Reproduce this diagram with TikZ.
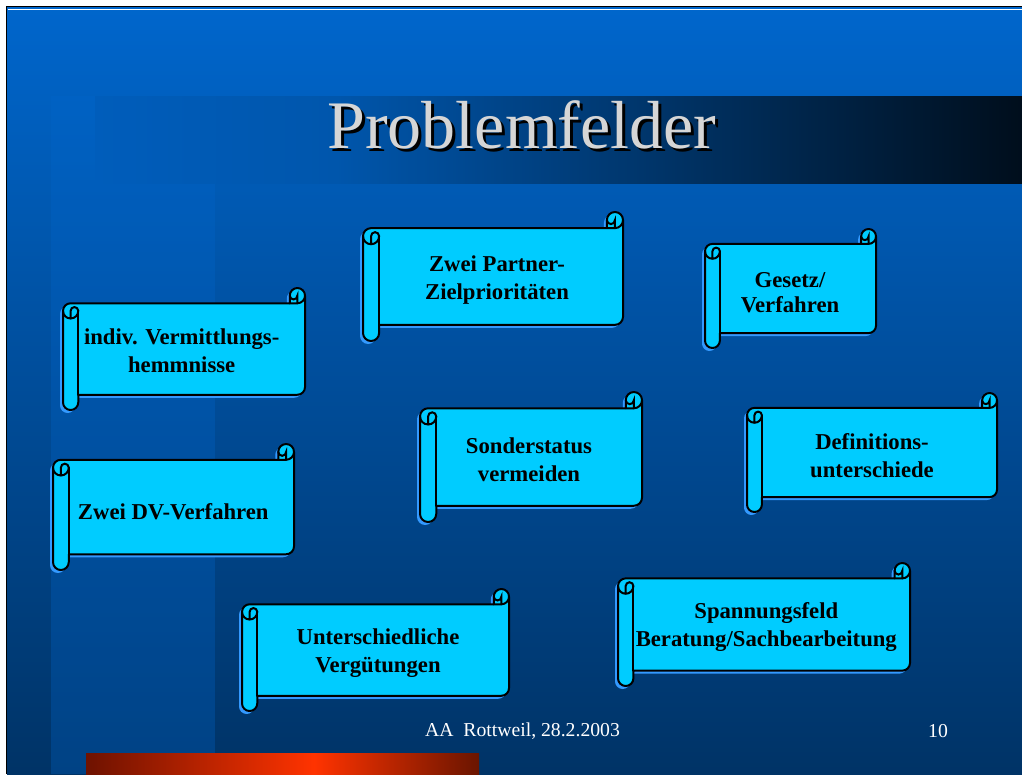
\documentclass[tikz,border=0pt]{standalone}
\usepackage{fontspec}
\setmainfont{Liberation Serif}
\usepackage{xcolor}
\definecolor{Slide Top}{HTML}{0066CC}
\definecolor{Slide Bottom}{HTML}{003366}
\definecolor{Scroll Cyan}{HTML}{00CCFF}
\definecolor{Scroll Shadow}{HTML}{3399FF}
\definecolor{Title Grey}{HTML}{D6D6D6}
\colorlet{cTop}{Slide Top}
\colorlet{cBottom}{Slide Bottom}
\colorlet{cCyan}{Scroll Cyan}
\colorlet{cShadow}{Scroll Shadow}
\colorlet{cTitle}{Title Grey}
\definecolor{tbLeft}{HTML}{005DBB}
\definecolor{tbMid}{HTML}{0056AC}
\definecolor{tbRight}{HTML}{000E1C}
\definecolor{obDark}{HTML}{6E1200}
\definecolor{obBright}{HTML}{FF3300}
\definecolor{obDarkB}{HTML}{6A1500}
\usepackage{tikz}
\usetikzlibrary{calc, positioning}
\pgfdeclarehorizontalshading{titleband}{100bp}{color(0bp)=(tbLeft); color(25bp)=(tbLeft); color(38bp)=(tbMid); color(75bp)=(tbRight); color(100bp)=(tbRight)}
\pgfdeclarehorizontalshading{orangebar}{100bp}{color(0bp)=(obDark); color(25bp)=(obDark); color(54bp)=(obBright); color(75bp)=(obDarkB); color(100bp)=(obDarkB)}
\tikzset{
	scroll body/.style={
		fill=cCyan,
		draw=black,
		line width=2pt,
		line join=round
	},
	scroll shadow/.style={
		fill=cShadow
	},
	scroll line/.style={
		draw=black,
		line width=2pt,
		line cap=round
	},
	scroll text/.style={
		align=center,
		inner sep=0pt,
		font=\fontsize{22.7}{28}\bfseries\selectfont,
		execute at begin node=\strut,
		execute at end node=\strut
	},
	title text/.style={
		anchor=base,
		inner sep=0pt,
		text=cTitle,
		font=\fontsize{68}{80}\selectfont
	},
	foot text/.style={
		anchor=base,
		inner sep=0pt,
		text=white,
		font=\fontsize{19.7}{24}\selectfont
	}
}
% title with its drop shadow
\newcommand{\shadowed}[1]{\makebox[0pt][l]{\hspace{3pt}\raisebox{-3pt}{\color{black}#1}}#1}
% outline of one scroll, uses \scW, \scH, \scC
\newcommand{\scrollpath}{(0,1.5*\scC) arc[start angle=180, delta angle=90, radius=\scC/2]
	-- (\scW-\scC,\scC) -- (\scW-\scC,\scC/2)
	arc[start angle=180, delta angle=180, radius=\scC/2]
	-- (\scW,\scH-1.5*\scC)
	arc[start angle=0, delta angle=90, radius=\scC/2]
	-- (\scC,\scH-\scC) -- (\scC,\scH-\scC/2)
	arc[start angle=0, delta angle=180, radius=\scC/2] -- cycle}
% #1,#2 top left corner, #3 width, #4 height
\newcommand{\scrollbox}[4]{%
	\begin{scope}[shift={(#1,#2)}]
		\pgfmathsetmacro{\scW}{#3}
		\pgfmathsetmacro{\scH}{#4}
		\pgfmathsetmacro{\scC}{0.125*min(#3,#4)}
		\path[scroll shadow, shift={(-3,3)}] \scrollpath;
		\path[scroll body] \scrollpath;
		\draw[scroll line] (\scW-\scC,\scC) -- (\scW-\scC/2,\scC) arc[start angle=90, delta angle=-90, radius=\scC/2];
		\draw[scroll line] (\scW-\scC/2,\scC) -- (\scW-\scC/2,\scC/2) arc[start angle=0, delta angle=180, radius=\scC/4];
		\draw[scroll line] (\scC/2,2*\scC) -- (\scC/2,1.5*\scC) arc[start angle=180, delta angle=180, radius=\scC/4] arc[start angle=0, delta angle=180, radius=\scC/2];
		\draw[scroll line] (\scC,1.5*\scC) -- (\scC,\scH-\scC);
	\end{scope}}

\begin{document}
\begin{tikzpicture}[x=1pt, y=-1pt]
		\useasboundingbox (0,0) rectangle (1022,774);

		% slide
		\fill[white] (0,0) rectangle (1022,774);
		\shade[top color=cTop, bottom color=cBottom] (7,7) rectangle (1022,774);
		\fill[cTop, opacity=.3] (51,96) rectangle (215,774);
		\shade[shading=titleband] (95,96) rectangle (1022,183);
		\shade[shading=orangebar] (86,753) rectangle (479,774);
		\draw[black, line width=1pt] (6.5,774) -- (6.5,6.5) -- (1022,6.5);
		\draw[white, line width=1pt] (8,9.5) -- (1022,9.5);

		\node[title text] (title) at (522,148) {\shadowed{Problemfelder}};

		% scrolls
		\scrollbox{63}{288}{242}{122}
		\scrollbox{363}{212}{260}{129}
		\scrollbox{705}{229}{171}{119}
		\scrollbox{420}{392}{222}{130}
		\scrollbox{747}{393}{250}{119}
		\scrollbox{53}{444}{241}{126}
		\scrollbox{242}{589}{267}{122}
		\scrollbox{618}{563}{292}{123}

		\node[scroll text] (hemm) at (181.7,355.2) {indiv. Vermittlungs-\\hemmnisse};
		\node[scroll text] (ziel) at (497,281.7) {Zwei Partner-\\Zielprioritäten};
		\node[scroll text, font=\fontsize{22.7}{25}\bfseries\selectfont] (gesetz) at (790,295.8) {Gesetz/\\Verfahren};
		\node[scroll text] (sonder) at (529,463.9) {Sonderstatus\\vermeiden};
		\node[scroll text] (defi) at (872,459.6) {Definitions-\\unterschiede};
		\node[scroll text] (dv) at (173.3,513.4) {Zwei DV-Verfahren};
		\node[scroll text] (verg) at (378,654.6) {Unterschiedliche\\Vergütungen};
		\node[scroll text] (spann) at (766.3,628.6) {Spannungsfeld\\Beratung/Sachbearbeitung};

		\node[foot text] (date) at (522.5,736) {AA~~Rottweil, 28.2.2003};
		\node[foot text] (page) at (938,737) {10};
	\end{tikzpicture}
\end{document}
